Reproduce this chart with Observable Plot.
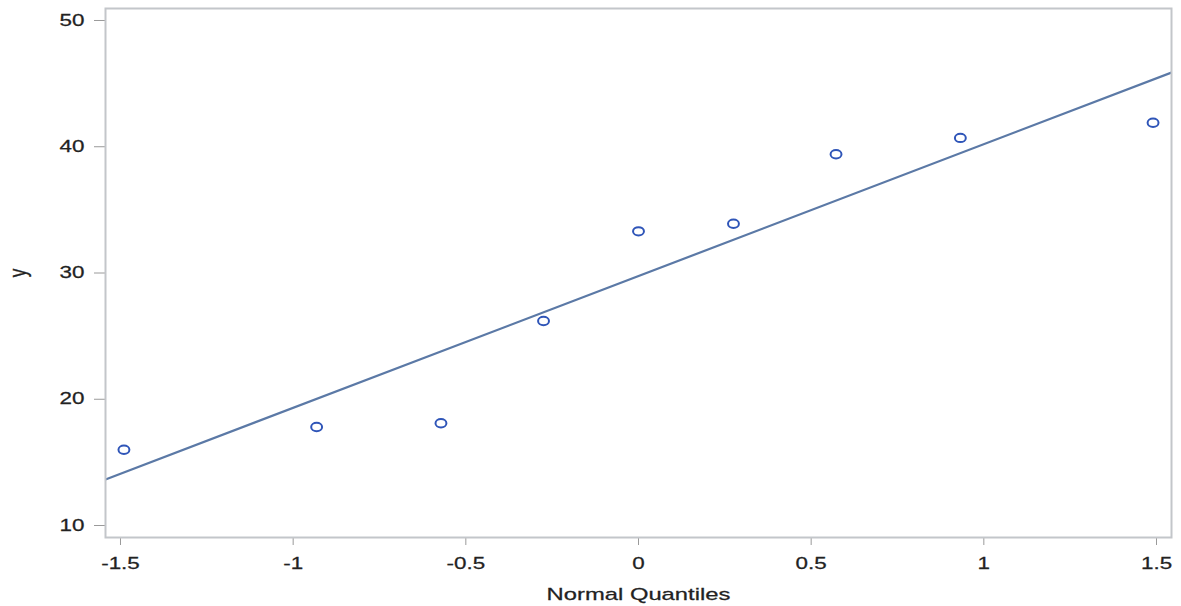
<!DOCTYPE html>
<html>
<head>
<meta charset="utf-8">
<script src="https://cdn.jsdelivr.net/npm/d3@7"></script>
<script src="https://cdn.jsdelivr.net/npm/@observablehq/plot@0.6"></script>
<style>
  html, body { margin: 0; padding: 0; background: #fff; }
  #chart svg { display: block; }
</style>
</head>
<body>
<div id="chart"></div>
<script>
// Normal quantiles of the nine sorted observations
const quantiles = [-1.49, -0.932, -0.572, -0.275, 0, 0.275, 0.572, 0.932, 1.49];
// Observed y values
const yValues = [16.0, 17.8, 18.1, 26.2, 33.3, 33.9, 39.4, 40.7, 41.9];
// Reference line: y = mu + sigma * q
const mu = 29.76;
const sigma = 10.44;
const xTicks = [-1.5, -1, -0.5, 0, 0.5, 1, 1.5];
const yTicks = [10, 20, 30, 40, 50];

const xDomain = [-1.5434, 1.5434];
const yDomain = [9.05, 50.95];

const points = quantiles.map((q, i) => ({q, y: yValues[i]}));
const refLine = xDomain.map(q => ({q, y: mu + sigma * q}));

// Wide elliptical marker, drawn with Bézier arcs
const K = 0.5523;
const ellipse = {
  draw(context, size) {
    const ry = Math.sqrt(size / Math.PI);
    const rx = ry * 1.3;
    context.moveTo(rx, 0);
    context.bezierCurveTo(rx, K * ry, K * rx, ry, 0, ry);
    context.bezierCurveTo(-K * rx, ry, -rx, K * ry, -rx, 0);
    context.bezierCurveTo(-rx, -K * ry, -K * rx, -ry, 0, -ry);
    context.bezierCurveTo(K * rx, -ry, rx, -K * ry, rx, 0);
    context.closePath();
  }
};

const chart = Plot.plot({
  width: 1181,
  height: 606,
  marginLeft: 105,
  marginRight: 10,
  marginTop: 8,
  marginBottom: 69,
  style: {fontFamily: "'Liberation Sans', Arial, sans-serif", fontSize: "16px", color: "#222"},
  x: {
    domain: xDomain,
    ticks: xTicks,
    tickFormat: d => String(d),
    tickSize: 8,
    tickPadding: 12,
    label: "Normal Quantiles",
    labelAnchor: "center",
    labelArrow: "none",
    labelOffset: 62
  },
  y: {
    domain: yDomain,
    ticks: yTicks,
    tickSize: 11,
    tickPadding: 10,
    label: "y",
    labelAnchor: "center",
    labelArrow: "none",
    labelOffset: 96
  },
  marks: [
    Plot.line(refLine, {x: "q", y: "y", stroke: "#5b79a6", strokeWidth: 2.2, clip: true}),
    Plot.dot(points, {x: "q", y: "y", r: 4.2, symbol: ellipse, stroke: "#2f55b8", strokeWidth: 2, fill: "none"}),
    Plot.frame({stroke: "#c3c6ca", strokeWidth: 2})
  ]
});

const svg = d3.select(chart);
svg.selectAll("[aria-label$='tick'] path").attr("stroke", "#9a9a9a");

// Wide lettering: stretch each text horizontally about its anchor point
const stretch = 1.4;
svg.selectAll("[aria-label$='tick label'] text, [aria-label$='axis label'] text").each(function () {
  const t = this.getAttribute("transform") || "";
  const x = +(this.getAttribute("x") || 0);
  this.removeAttribute("x");
  const m = /^(translate\([^)]*\))\s*(.*)$/.exec(t);
  if (m && m[2]) {
    // rotated label: stretch in screen space before rotating
    this.setAttribute("transform", `${m[1]} scale(${stretch},1) ${m[2]}`);
  } else {
    this.setAttribute("transform", `${t} translate(${x},0) scale(${stretch},1)`);
  }
});
svg.selectAll("[aria-label$='tick label'] text, [aria-label$='axis label'] text")
  .style("stroke", "#222").style("stroke-width", "0.25px");
svg.selectAll("[aria-label$='axis label'] text").style("font-size", "17px");

document.getElementById("chart").appendChild(chart);
</script>
</body>
</html>
